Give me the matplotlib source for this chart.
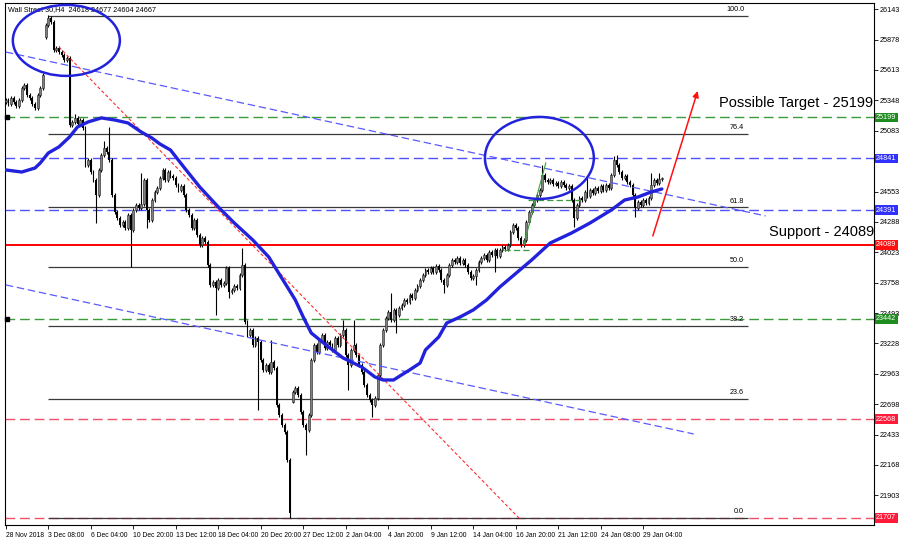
import numpy as np
import matplotlib
matplotlib.use("Agg")
import matplotlib.pyplot as plt
from matplotlib import font_manager
from matplotlib.patches import Ellipse
import matplotlib.transforms as mtransforms

##### H4 candle closes (index = bar number)
closes = [
    25352, 25317, 25369, 25334, 25299, 25352, 25456, 25482, 25395, 25369,
    25317, 25282, 25395, 25456, 25570, 26006, 26067, 26032, 25788, 25805,
    25770, 25744, 25701, 25718, 25134, 25160, 25195, 25142, 25177, 25107,
    24785, 24828, 24723, 24654, 24523, 24741, 24872, 24933, 24898, 24828,
    24523, 24375, 24322, 24261, 24287, 24235, 24348, 24217, 24392, 24436,
    24409, 24444, 24654, 24392, 24305, 24479, 24549, 24584, 24671, 24741,
    24654, 24723, 24689, 24671, 24610, 24566, 24601, 24523, 24392, 24348,
    24235, 24305, 24174, 24087, 24148, 24113, 23912, 23738, 23764, 23711,
    23781, 23738, 23755, 23886, 23677, 23694, 23729, 23711, 23825, 23912,
    23415, 23301, 23345, 23214, 23275, 23240, 23083, 22996, 23040, 22979,
    23066, 23014, 22691, 22604, 22516, 22455, 22210, 21745, 22804, 22839,
    22778, 22630, 22516, 22473, 22604, 23083, 23214, 23153, 23258, 23301,
    23188, 23240, 23214, 23171, 23275, 23214, 23301, 23345, 23127, 23040,
    23171, 23214, 23127, 23040, 22979, 22865, 22778, 22734, 22691, 22752,
    22952, 23214, 23345, 23450, 23502, 23432, 23520, 23476, 23537, 23563,
    23607, 23589, 23650, 23624, 23694, 23729, 23781, 23825, 23869, 23851,
    23886, 23851, 23903, 23869, 23781, 23738, 23825, 23912, 23956, 23938,
    23973, 23930, 23956, 23912, 23851, 23799, 23816, 23869, 23938, 23973,
    23999, 23956, 24026, 23999, 24043, 23991, 24043, 24069, 24052, 24087,
    24200, 24261, 24235, 24148, 24087, 24130, 24287, 24375, 24436, 24479,
    24523, 24566, 24697, 24654, 24636, 24654, 24619, 24627, 24601, 24636,
    24610, 24584, 24601, 24479, 24322, 24436, 24497, 24479, 24549, 24514,
    24566, 24540, 24584, 24558, 24601, 24566, 24610, 24584, 24697, 24828,
    24785, 24723, 24671, 24689, 24636, 24610, 24523, 24409, 24462, 24436,
    24479, 24453, 24497, 24610, 24654, 24627, 24662, 24667,
]
first_open = 25330
gap_opens = {15: 25900, 108: 22720}
wick_highs = {16: 26095, 17: 26080, 26: 25230, 37: 24990, 39: 25116, 51: 24715,
              89: 24060, 100: 23258, 127: 23432, 131: 23432, 145: 23668,
              202: 24784, 219: 24680, 229: 24860, 230: 24872, 243: 24715, 246: 24715}
wick_lows = {34: 24279, 47: 23895, 53: 24235, 79: 23476, 84: 23620, 95: 22647,
             107: 21707, 113: 22255, 129: 22822, 138: 22586, 147: 23319,
             165: 23668, 177: 23738, 184: 23850, 214: 24244, 237: 24331}

##### moving average (blue), read at selected bars
ma_idx = [0, 6, 11, 13, 16, 20, 24, 27, 31, 36, 41, 46, 51, 55, 58, 62, 67, 73,
          80, 86, 93, 99, 102, 106, 109, 112, 115, 121, 127, 134, 139, 142, 146,
          149, 152, 156, 158, 163, 166, 171, 176, 181, 186, 198, 205, 213, 220,
          228, 233, 238, 243, 247]
ma_vals = [24741, 24723, 24758, 24802, 24889, 24942, 25029, 25116, 25160, 25195,
           25177, 25151, 25072, 25020, 24968, 24915, 24767, 24593, 24418, 24279,
           24130, 23982, 23869, 23720, 23607, 23458, 23319, 23206, 23101, 23022,
           22935, 22909, 22909, 22953, 22996, 23057, 23171, 23284, 23406, 23458,
           23520, 23607, 23720, 23956, 24104, 24191, 24279, 24392, 24479, 24505,
           24549, 24575]

##### horizontal levels
levels = [25199, 24841, 24391, 24089, 23442, 22568, 21707]
level_colors = ['#3c9c3c', '#5050ff', '#5050ff', '#ff0000', '#3c9c3c', '#f0506a', '#f0506a']
level_styles = ['--', '--', '--', '-', '--', '--', '--']
label_colors = ['#1e8c1e', '#3030ff', '#3030ff', '#ff1010', '#1e8c1e', '#ff1a3a', '#ff1a3a']

##### fibonacci retracement
fib_high = 26087
fib_low = 21707
fib_ratios = [100.0, 76.4, 61.8, 50.0, 38.2, 23.6, 0.0]

##### drawn trend lines: (bar, price) pairs
upper_trend = ([0, 286.1], [25770, 24340])
lower_trend = ([0, 259.0], [23738, 22438])
red_trend = ([20.0, 193.2], [25814, 21705])
green_h1 = ([187.5, 197.7], [24043, 24043])
green_h2 = ([196.5, 216.5], [24479, 24479])
green_diag = ([195.0, 203.3], [24087, 24802])
arrow_from = (243.6, 24165)
arrow_to = (260.5, 25430)
ellipses = [(22.8, 25871, 40.3, 619), (200.9, 24846, 41.0, 715)]

yticks = [21903, 22168, 22433, 22698, 22963, 23228, 23493, 23758, 24023, 24288,
          24553, 24818, 25083, 25348, 25613, 25878, 26143]
hidden_yticks = [24818]  # sits under the 24841 price label
xtick_pos = list(range(0, 241, 16))
xtick_labels = ['28 Nov 2018', '3 Dec 08:00', '6 Dec 04:00', '10 Dec 20:00',
                '13 Dec 12:00', '18 Dec 04:00', '20 Dec 20:00', '27 Dec 12:00',
                '2 Jan 04:00', '4 Jan 20:00', '9 Jan 12:00', '14 Jan 04:00',
                '16 Jan 20:00', '21 Jan 12:00', '24 Jan 08:00', '29 Jan 04:00']
header = 'Wall Street 30,H4  24618 24677 24604 24667'


def pick_font(names):
    for n in names:
        try:
            font_manager.findfont(n, fallback_to_default=False)
            return n, True
        except Exception:
            pass
    return 'DejaVu Sans', False


fam, is_narrow = pick_font(['Liberation Sans Narrow'])
if not is_narrow:
    fam, _ = pick_font(['Liberation Sans'])
small = 6.0 if is_narrow else 5.2
xsmall = 6.0 if is_narrow else 4.85
big = 12.5 if is_narrow else 10.5
plt.rcParams['font.family'] = [fam, 'DejaVu Sans']

fig = plt.figure(figsize=(9.14, 5.56), dpi=100)
ax = fig.add_axes([5 / 914, 31 / 556, 869 / 914, 522.3 / 556])
xmin = -0.3
ax.set_xlim(xmin, xmin + 869 / 2.656)
ax.set_ylim(21644, 26200)

##### candles
c = np.array(closes, dtype=float)
o = np.concatenate([[first_open], c[:-1]])
for k, v in gap_opens.items():
    o[k] = v
idx = np.arange(len(c))
hi = np.maximum(o, c) + 15
lo = np.minimum(o, c) - 15
for k, v in wick_highs.items():
    hi[k] = v
for k, v in wick_lows.items():
    lo[k] = v
ax.vlines(idx, lo, hi, color='#000000', lw=0.8, zorder=3)
body = np.where(np.abs(c - o) < 8, 8, np.abs(c - o))
bottom = np.minimum(o, c)
bull = c >= o
ax.bar(idx[bull], body[bull], bottom=bottom[bull], width=0.7, color='#808080',
       edgecolor='#202020', linewidth=0.4, zorder=3)
ax.bar(idx[~bull], body[~bull], bottom=bottom[~bull], width=0.7, color='#000000',
       linewidth=0, zorder=3)

##### levels
for lv, col, st in zip(levels, level_colors, level_styles):
    if st == '-':
        ax.axhline(lv, color=col, lw=1.4, zorder=2)
    else:
        ax.axhline(lv, color=col, lw=1.0, dashes=(7, 3.5), zorder=2)

##### fibonacci
fib_end = 279.5
for r in fib_ratios:
    p = fib_low + (fib_high - fib_low) * r / 100
    ax.hlines(p, 16, fib_end, color='#3a3a3a', lw=0.9, zorder=2)
    ax.text(fib_end - 1.5, p + 25, f'{r:.1f}', ha='right', va='bottom', fontsize=small, color='black')

##### trend lines
ax.plot(*upper_trend, color='#5a5aff', lw=0.9, dashes=(6, 3), zorder=4)
ax.plot(*lower_trend, color='#5a5aff', lw=0.9, dashes=(6, 3), zorder=4)
ax.plot(*red_trend, color='#ff3030', lw=0.8, dashes=(3, 2), zorder=4)
ax.plot(*green_h1, color='#3c9c3c', lw=0.9, dashes=(5, 2.5), zorder=4)
ax.plot(*green_h2, color='#3c9c3c', lw=0.9, dashes=(5, 2.5), zorder=4)
ax.plot(*green_diag, color='#3c9c3c', lw=0.8, zorder=4)

##### moving average
ax.plot(ma_idx, ma_vals, color='#2222dd', lw=2.4, solid_capstyle='round',
        solid_joinstyle='round', zorder=5)

##### ellipses and arrow
for cx, cy, w, h in ellipses:
    ax.add_patch(Ellipse((cx, cy), w, h, fill=False, ec='#2222dd', lw=1.8, zorder=6))
ax.annotate('', xy=arrow_to, xytext=arrow_from,
            arrowprops=dict(arrowstyle='-|>', color='#ff1010', lw=1.1,
                            mutation_scale=9, shrinkA=0, shrinkB=0), zorder=6)

ax.text(268.4, 25325, 'Possible Target - 25199', fontsize=big, va='center', ha='left', color='black')
ax.text(287.3, 24200, 'Support - 24089', fontsize=big, va='center', ha='left', color='black')

##### header
ax.text(3 / 869, 1 - 6.5 / 522.3, header, transform=ax.transAxes, fontsize=small,
        va='center', ha='left', color='black')

##### axes styling
for s in ['top', 'left', 'bottom', 'right']:
    ax.spines[s].set_linewidth(0.8)
    ax.spines[s].set_color('black')
ax.yaxis.tick_right()
ax.set_yticks(yticks)
ax.set_yticklabels(['' if t in hidden_yticks else str(t) for t in yticks])
ax.tick_params(axis='y', length=3, width=0.6, labelsize=small, pad=1)
ax.set_xticks(xtick_pos)
ax.set_xticklabels(xtick_labels)
ax.tick_params(axis='x', length=3, width=0.6, labelsize=xsmall, pad=2)
for lab in ax.get_xticklabels():
    lab.set_ha('left')

##### price labels on the right axis
trans = mtransforms.blended_transform_factory(ax.transAxes, ax.transData)
for lv, col in zip(levels, label_colors):
    ax.text(1.0025, lv, str(lv), transform=trans, fontsize=small, color='white',
            va='center', ha='left', zorder=10, clip_on=False,
            bbox=dict(boxstyle='square,pad=0.18', fc=col, ec='none'))
for lv in [25199, 23442]:
    ax.plot([xmin + 0.6], [lv], marker='s', ms=2.5, color='black', clip_on=False, zorder=7)

fig.savefig('out.png', dpi=100)
